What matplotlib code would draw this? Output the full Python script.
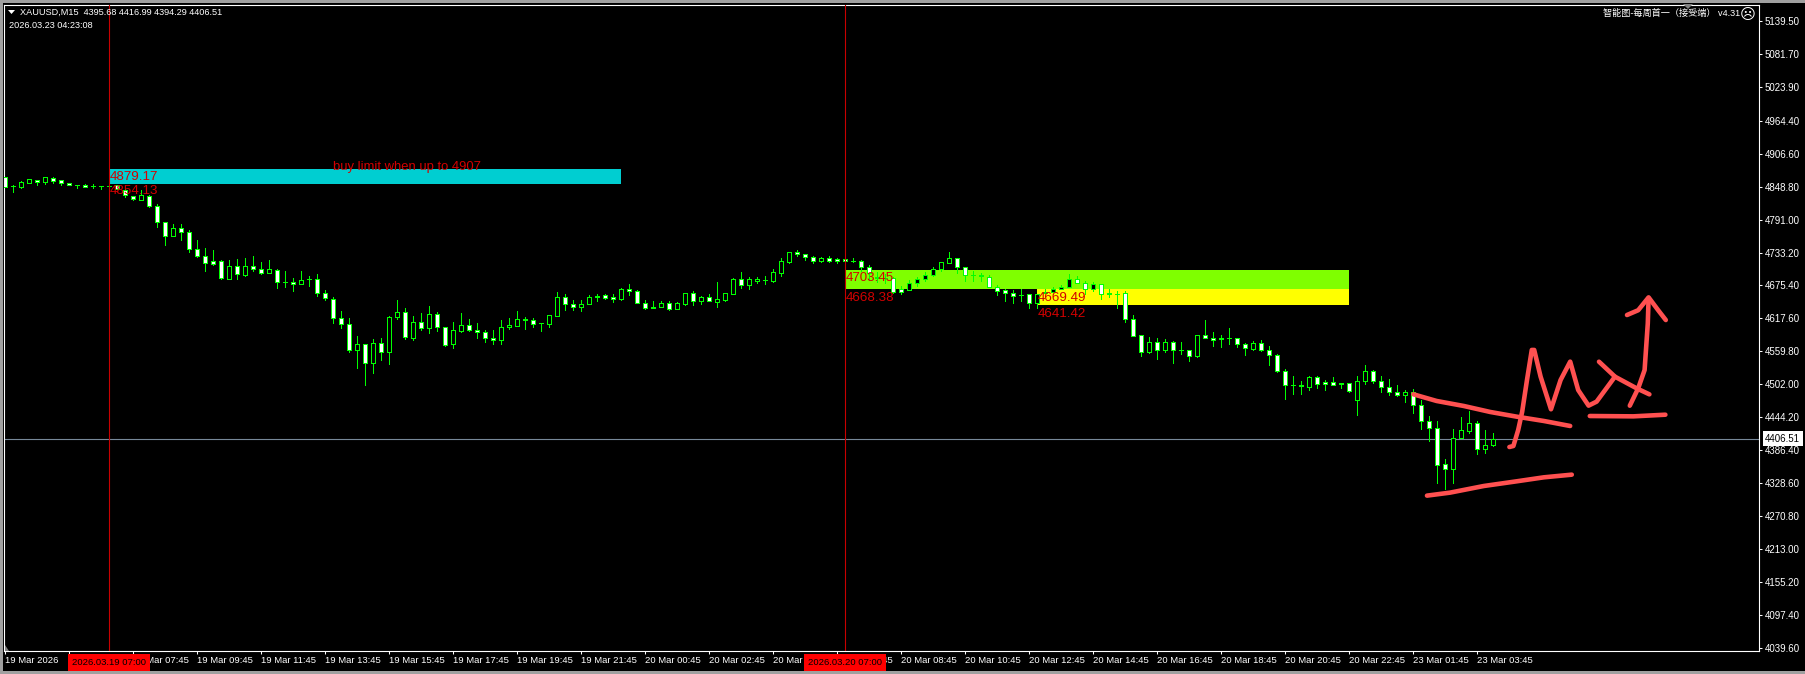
import matplotlib
matplotlib.use("Agg")
import matplotlib.pyplot as plt
from matplotlib.patches import Polygon, Rectangle
import numpy as np

plt.rcParams['font.family'] = ['Liberation Sans', 'Noto Sans CJK SC', 'DejaVu Sans']

# OHLC of the XAUUSD M15 bars, left to right
open_px = [4865,4850,4849,4856,4861,4857,4864,4860,4856,4851,4851,4850,4850,4850,4851,4843,4833,4826,4833,4814,
           4786,4763,4777,4770,4739,4728,4718,4719,4687,4709,4694,4709,4705,4698,4703,4682,4682,4678,4686,4686,
           4663,4651,4619,4607,4563,4573,4539,4575,4558,4620,4629,4584,4612,4601,4626,4603,4572,4596,4606,4598,
           4593,4584,4579,4603,4605,4616,4614,4610,4608,4622,4656,4643,4638,4643,4657,4658,4655,4652,4670,4666,
           4645,4638,4638,4644,4635,4643,4662,4649,4656,4647,4650,4661,4686,4677,4684,4685,4684,4698,4717,4734,
           4730,4726,4719,4723,4721,4721,4719,4719,4708,4691,4689,4688,4669,4668,4679,4687,4693,4704,4715,4723,
           4707,4693,4693,4691,4673,4667,4663,4659,4660,4645,4663,4664,4669,4672,4686,4679,4670,4678,4662,4661,
           4663,4616,4588,4558,4576,4562,4576,4563,4563,4552,4588,4584,4583,4583,4583,4572,4564,4574,4563,4554,
           4526,4500,4500,4498,4514,4506,4506,4504,4504,4475,4507,4525,4507,4498,4489,4484,4488,4465,4437,4426,
           4363,4354,4408,4420,4435,4388,4395.68]
high_px = [4865,4852,4859,4862,4861,4865,4865,4860,4856,4851,4853,4853,4850,4850,4852,4846,4833,4843,4834,4819,
           4787,4784,4783,4773,4755,4741,4737,4720,4720,4722,4723,4727,4716,4720,4705,4701,4688,4701,4692,4695,
           4668,4655,4630,4618,4587,4573,4581,4583,4621,4650,4636,4622,4628,4639,4629,4603,4611,4627,4617,4610,
           4598,4597,4615,4618,4631,4620,4618,4610,4623,4664,4661,4650,4650,4659,4660,4660,4661,4671,4678,4667,
           4650,4648,4648,4648,4646,4663,4666,4657,4660,4682,4662,4688,4699,4690,4690,4692,4704,4724,4735,4737,
           4731,4728,4726,4727,4724,4721,4724,4720,4711,4699,4696,4690,4675,4685,4690,4699,4707,4717,4735,4723,
           4707,4700,4698,4694,4677,4669,4667,4670,4660,4661,4669,4672,4677,4696,4692,4683,4682,4678,4670,4666,
           4665,4624,4588,4585,4583,4581,4578,4576,4563,4588,4615,4594,4588,4601,4583,4574,4578,4579,4569,4556,
           4528,4517,4507,4517,4517,4509,4515,4504,4504,4517,4536,4527,4517,4511,4500,4492,4493,4475,4447,4438,
           4371,4424,4444,4455,4437,4422,4416.99]
low_px = [4849,4840,4847,4855,4852,4853,4856,4852,4851,4846,4849,4846,4844,4849,4844,4831,4826,4826,4813,4778,
          4746,4763,4755,4735,4726,4701,4712,4686,4686,4687,4692,4701,4696,4698,4671,4673,4665,4678,4674,4657,
          4650,4610,4601,4558,4530,4501,4522,4544,4537,4617,4582,4579,4597,4592,4595,4570,4566,4593,4595,4584,
          4577,4573,4573,4599,4605,4599,4603,4596,4603,4622,4632,4632,4630,4643,4648,4652,4647,4650,4659,4645,
          4634,4636,4638,4632,4635,4641,4641,4643,4648,4638,4648,4661,4671,4669,4680,4678,4682,4692,4715,4727,
          4720,4715,4717,4717,4715,4717,4717,4701,4685,4682,4680,4662,4661,4667,4675,4683,4692,4701,4715,4698,
          4683,4683,4684,4673,4659,4648,4645,4649,4636,4636,4663,4664,4669,4672,4679,4661,4665,4652,4656,4636,
          4612,4586,4551,4557,4547,4559,4540,4555,4543,4550,4584,4569,4568,4573,4568,4553,4563,4560,4536,4524,
          4476,4485,4485,4492,4496,4492,4500,4496,4489,4448,4503,4505,4488,4483,4482,4471,4452,4424,4403,4329,
          4319,4329,4408,4417,4380,4382,4394.29]
close_px = [4849,4850,4857,4862,4857,4865,4859,4856,4851,4851,4849,4850,4850,4850,4845,4834,4828,4834,4814,4786,
            4763,4777,4770,4739,4728,4714,4713,4688,4709,4695,4709,4705,4698,4704,4682,4682,4678,4685,4686,4663,
            4653,4619,4607,4563,4573,4539,4575,4559,4620,4629,4585,4612,4601,4626,4603,4571,4597,4606,4598,4593,
            4584,4579,4602,4606,4616,4614,4608,4609,4623,4656,4643,4638,4643,4655,4655,4654,4651,4670,4666,4645,
            4636,4636,4644,4635,4644,4662,4649,4656,4648,4651,4662,4686,4677,4686,4686,4685,4699,4718,4734,4730,
            4726,4719,4723,4719,4719,4718,4718,4708,4697,4688,4688,4664,4664,4679,4687,4693,4705,4716,4723,4707,
            4693,4693,4692,4673,4666,4663,4657,4658,4645,4661,4664,4669,4672,4686,4679,4670,4678,4661,4660,4660,
            4616,4587,4558,4576,4563,4576,4563,4563,4552,4588,4584,4580,4581,4583,4572,4565,4574,4563,4554,4525,
            4500,4500,4499,4514,4502,4502,4500,4502,4491,4507,4525,4507,4498,4489,4484,4488,4465,4437,4426,4361,
            4354,4407,4421,4435,4388,4395,4406.51]

y_ticks = [5139.50,5081.70,5023.90,4964.40,4906.60,4848.80,4791.00,4733.20,4675.40,4617.60,
           4559.80,4502.00,4444.20,4386.40,4328.60,4270.80,4213.00,4155.20,4097.40,4039.60]
x_tick_bars = [0,8,16,24,32,40,48,56,64,72,80,88,96,104,112,120,128,136,144,152,160,168,176,184]
x_tick_labels = ['19 Mar 2026','19 Mar 05:45','19 Mar 07:45','19 Mar 09:45','19 Mar 11:45','19 Mar 13:45',
                 '19 Mar 15:45','19 Mar 17:45','19 Mar 19:45','19 Mar 21:45','20 Mar 00:45','20 Mar 02:45',
                 '20 Mar 04:45','20 Mar 06:45','20 Mar 08:45','20 Mar 10:45','20 Mar 12:45','20 Mar 14:45',
                 '20 Mar 16:45','20 Mar 18:45','20 Mar 20:45','20 Mar 22:45','23 Mar 01:45','23 Mar 03:45']

last_price = 4406.51
marker_bars = [13, 105]
marker_labels = ['2026.03.19 07:00', '2026.03.20 07:00']

# zones: bar start, bar end, top price, bottom price, colour
zones = [
    (13, 77, 4879.17, 4854.13, '#00ced1'),
    (105, 168, 4703.45, 4668.38, '#7fff00'),
    (129, 168, 4669.49, 4641.42, '#ffff00'),
]

# hand drawn strokes, (bar, price)
strokes = [
    ([176.0,178.9,182.3,185.6,188.9,192.3,195.6], [4484.5,4472.8,4464,4453.5,4445.3,4437.7,4428.9]),
    ([177.7,180.6,184.8,188.9,192.3,195.8], [4306.7,4312,4323.6,4331.8,4338.8,4343.5]),
    ([188,188.5,189.1,189.6,190.2,190.8,191.1,191.9,193.2,194.4,195.6,196.6,197.9,198.9,201.2],
     [4392,4393.8,4421.9,4454,4509.6,4562.3,4562.3,4515.5,4458.2,4509.6,4541.8,4492,4464.6,4471.6,4515.5]),
    ([199.2,201.2,203.9,205.5], [4541.7,4515.4,4495,4484.4]),
    ([198.05,203.5,207.5], [4446.4,4445.8,4448.7]),
    ([203.05,204.1,204.9,205.1,205.3,205.4], [4464.5,4495,4527,4568,4609,4653]),
    ([202.7,204.1,205.4,206.6,207.55], [4623.6,4632,4654.6,4632,4614.8]),
]

W, H = 1806, 674
fig = plt.figure(figsize=(W / 100, H / 100), dpi=100, facecolor='black')
ax = fig.add_axes([4.5 / W, 1 - 651 / H, (1759 - 4.5) / W, (651 - 4.5) / H], facecolor='black')


def fx(x):
    return x / W


def fy(y):
    return 1 - y / H


bars = np.arange(len(open_px))
o = np.array(open_px)
h = np.array(high_px)
l = np.array(low_px)
c = np.array(close_px)

# zones sit behind the candles
for i, (x0, x1, top, bottom, color) in enumerate(zones):
    ax.add_patch(Rectangle((x0, bottom), x1 - x0, top - bottom, facecolor=color, edgecolor='none', zorder=1 + i * 0.1))

ax.axhline(last_price, color='#778899', lw=0.8, zorder=2)

# candles, white body = down, black body = up
ax.vlines(bars, l, h, color='#00ff00', lw=0.5, antialiased=False, zorder=3)
body_colors = ['black' if cc >= oo else 'white' for oo, cc in zip(o, c)]
ax.bar(bars, np.abs(c - o), bottom=np.minimum(o, c), width=0.5, color=body_colors,
       edgecolor='#00ff00', linewidth=0.5, antialiased=False, zorder=4)

for b in marker_bars:
    ax.axvline(b, color='#c80000', lw=0.8, zorder=5)

# zone labels
red = '#d40000'
ax.text(13, 4866, '4879.17', color=red, fontsize=9.6, va='center', ha='left', zorder=6)
ax.text(13, 4841, '4854.13', color=red, fontsize=9.6, va='center', ha='left', zorder=6)
ax.text(41, 4884, 'buy limit when up to 4907', color=red, fontsize=9.4, va='center', ha='left', zorder=6)
ax.text(105, 4688.5, '4703.45', color=red, fontsize=9.6, va='center', ha='left', zorder=6)
ax.text(105, 4653, '4668.38', color=red, fontsize=9.6, va='center', ha='left', zorder=6)
ax.text(129, 4653, '4669.49', color=red, fontsize=9.6, va='center', ha='left', zorder=6)
ax.text(129, 4625, '4641.42', color=red, fontsize=9.6, va='center', ha='left', zorder=6)

for sx, sy in strokes:
    ax.plot(sx, sy, color='#ff5050', lw=3.3, solid_capstyle='round', solid_joinstyle='round', zorder=7)

ax.set_xlim(-0.1, 219.2)
ax.set_ylim(4034.1, 5168.4)

for side in ['left', 'right', 'top', 'bottom']:
    ax.spines[side].set_color('white')
    ax.spines[side].set_linewidth(0.8)

ax.yaxis.tick_right()
ax.set_yticks(y_ticks)
ax.set_yticklabels(['%.2f' % v for v in y_ticks])
ax.set_xticks(x_tick_bars)
ax.set_xticklabels(x_tick_labels, ha='left')
ax.tick_params(axis='y', colors='white', length=2.2, width=0.75, labelsize=7, pad=2)
ax.tick_params(axis='x', colors='white', length=2.4, width=0.75, labelsize=6.8, pad=1.5)

# time markers on the bottom axis
for b, label in zip(marker_bars, marker_labels):
    ax.annotate(label, xy=(b, 0), xycoords=('data', 'axes fraction'), xytext=(0, -8.4),
                textcoords='offset points', ha='center', va='center', fontsize=6.8, color='black',
                annotation_clip=False, zorder=8,
                bbox=dict(boxstyle='square,pad=0.42', facecolor='#ff0000', edgecolor='none'))

# current price tag
ax.annotate('%.2f' % last_price, xy=(1, last_price), xycoords=('axes fraction', 'data'), xytext=(4.4, 0),
            textcoords='offset points', ha='left', va='center', fontsize=7, color='black',
            annotation_clip=False, zorder=8,
            bbox=dict(boxstyle='square,pad=0.25', facecolor='white', edgecolor='none'))

# header texts
fig.text(fx(20), fy(12.5), 'XAUUSD,M15  4395.68 4416.99 4394.29 4406.51', color='white', fontsize=6.6, va='center')
fig.text(fx(9), fy(25.5), '2026.03.23 04:23:08', color='white', fontsize=6.6, va='center')
fig.text(fx(1740), fy(13.5), '智能图-每周首一（接受端） v4.31', color='white', fontsize=6.6, va='center', ha='right')
fig.text(fx(1748), fy(14), '\u2639', color='white', fontsize=11, va='center', ha='center', family='DejaVu Sans')

# window furniture
grey = '#a0a0a0'
fig.patches.append(Rectangle((0, fy(3)), 1, 3 / H, transform=fig.transFigure, facecolor=grey, edgecolor='none'))
fig.patches.append(Rectangle((0, 0), 3 / W, 1, transform=fig.transFigure, facecolor=grey, edgecolor='none'))
fig.patches.append(Rectangle((0, 0), 1, 3 / H, transform=fig.transFigure, facecolor=grey, edgecolor='none'))
fig.patches.append(Polygon([(fx(8), fy(10)), (fx(15), fy(10)), (fx(11.5), fy(14))],
                           transform=fig.transFigure, facecolor='white', edgecolor='none'))
fig.patches.append(Polygon([(fx(1683), fy(4)), (fx(1693), fy(4)), (fx(1688), fy(9))],
                           transform=fig.transFigure, facecolor='#808080', edgecolor='none'))
fig.patches.append(Polygon([(fx(5), fy(651)), (fx(9), fy(651)), (fx(5), fy(645))],
                           transform=fig.transFigure, facecolor='#808080', edgecolor='none'))

fig.savefig('out.png', dpi=100, facecolor='black')
